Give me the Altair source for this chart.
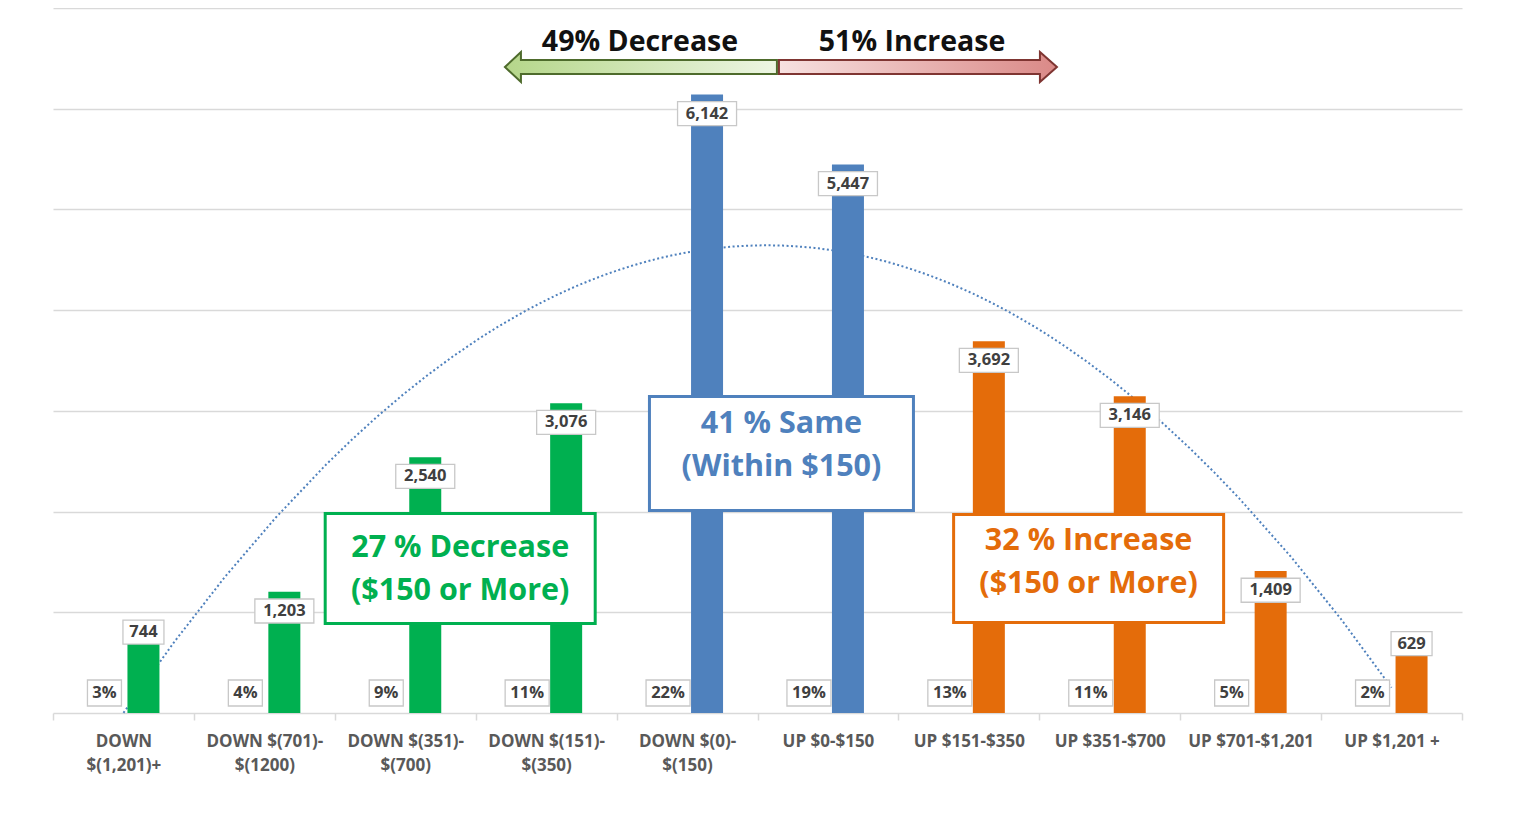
import altair as alt
import pandas as pd

# ---- data ----
categories = ["DOWN|$(1,201)+", "DOWN $(701)-|$(1200)", "DOWN $(351)-|$(700)",
              "DOWN $(151)-|$(350)", "DOWN $(0)-|$(150)", "UP $0-$150",
              "UP $151-$350", "UP $351-$700", "UP $701-$1,201", "UP  $1,201 +"]
counts = [744, 1203, 2540, 3076, 6142, 5447, 3692, 3146, 1409, 629]
percents = [3, 4, 9, 11, 22, 19, 13, 11, 5, 2]
groups = ["Decrease"] * 4 + ["Same"] * 2 + ["Increase"] * 4

group_names = ["Decrease", "Same", "Increase"]
group_colors = ["#00B050", "#4F81BD", "#E46C0A"]
text_colors = ["#07A04A", "#3F6AA3", "#E46C0A"]

ann_labels = ["27 % Decrease|($150 or More)", "41 % Same|(Within $150)", "32 % Increase|($150 or More)"]
ann_x = [2.39, 4.67, 6.85]
ann_y = [1435, 2577, 1435]
ann_text_y = [1420, 2656, 1494]

arrow_titles = ["49% Decrease", "51% Increase"]
arrow_title_x = [3.666, 5.597]
arrow_title_y = [6660, 6660]
arrow_x = [4.645]
arrow_y = [6414]

df = pd.DataFrame({"idx": list(range(len(categories))), "cat": categories,
                   "count": counts, "pct": percents, "group": groups})
ann = pd.DataFrame({"name": group_names, "label": ann_labels, "ax": ann_x, "ay": ann_y,
                    "ty": ann_text_y})
titles = pd.DataFrame({"t": arrow_titles, "tx": arrow_title_x, "ty": arrow_title_y})
arrows = pd.DataFrame({"ax": arrow_x, "ay": arrow_y})

FONT = "Open Sans"
W, H = 1409, 705

yscale = alt.Scale(domain=[0, 7000], nice=False, zero=True)
yaxis = alt.Axis(title=None, labels=False, ticks=False, domain=False, grid=True,
                 values=list(range(1000, 8000, 1000)), gridColor="#D9D9D9", gridWidth=1.5)


def Y(field):
    return alt.Y(field, type="quantitative", scale=yscale, axis=yaxis)


bscale = alt.Scale(domain=categories, paddingInner=0, paddingOuter=0)
xaxis = alt.Axis(title=None, labelExpr="split(datum.label, '|')", labelAngle=0,
                 labelFont=FONT, labelFontSize=17, labelFontWeight="bold",
                 labelColor="#595959", labelLineHeight=24, labelPadding=13,
                 tickBand="extent", tickSize=7, tickColor="#D9D9D9", tickWidth=1.5,
                 domainColor="#D9D9D9", domainWidth=1.5, grid=False, labelOverlap=False,
                 labelLimit=0)


def XB(with_axis=False):
    return alt.X("cat:N", sort=categories, scale=bscale, axis=xaxis if with_axis else None)


qscale = alt.Scale(domain=[-0.5, len(categories) - 0.5], nice=False, zero=False)


def XQ(field):
    return alt.X(field, type="quantitative", scale=qscale, axis=None)


base = alt.Chart(df)

trend = base.transform_regression(
    "idx", "count", method="poly", order=2, extent=[0, len(categories) - 1]
).mark_line(strokeDash=[2, 2.5], color="#4F81BD", strokeWidth=2).encode(
    x=XQ("idx"), y=Y("count"))

bars = base.mark_bar(width=32, xOffset=20).encode(
    x=XB(True), y=Y("count"),
    color=alt.Color("group:N", scale=alt.Scale(domain=group_names, range=group_colors), legend=None))

cnt = base.transform_calculate(
    lab="format(datum.count, ',')",
    ly="datum.count < 1000 ? datum.count + 60 : datum.count - 190",
    bw="14 + 9 * length(format(datum.count, ','))",
    box="'M' + (-datum.bw/2) + ',-12H' + (datum.bw/2) + 'V12H' + (-datum.bw/2) + 'Z'",
)
cnt_box = cnt.mark_point(filled=True, fill="white", stroke="#C8C8C8", strokeWidth=1.3,
                         opacity=1, size=4, xOffset=20).encode(
    x=XB(), y=Y("ly"), shape=alt.Shape("box:N", scale=None, legend=None))
cnt_txt = cnt.mark_text(font=FONT, fontSize=16.5, fontWeight="bold", color="#404040",
                        xOffset=20, baseline="middle").encode(
    x=XB(), y=Y("ly"), text="lab:N")

pc = base.transform_calculate(
    lab="datum.pct + '%'",
    zero="0",
    bw="14 + 10 * length(datum.pct + '%')",
    box="'M' + (-datum.bw/2) + ',-13H' + (datum.bw/2) + 'V13H' + (-datum.bw/2) + 'Z'",
)
pc_box = pc.mark_point(filled=True, fill="white", stroke="#C8C8C8", strokeWidth=1.3,
                       opacity=1, size=4, xOffset=-19, yOffset=-20).encode(
    x=XB(), y=Y("zero"), shape=alt.Shape("box:N", scale=None, legend=None))
pc_txt = pc.mark_text(font=FONT, fontSize=16.5, fontWeight="bold", color="#404040",
                      xOffset=-19, yOffset=-20, baseline="middle").encode(
    x=XB(), y=Y("zero"), text="lab:N")

annb = alt.Chart(ann).transform_calculate(lines="split(datum.label, '|')")
ann_box = annb.mark_point(filled=True, fill="white", strokeWidth=3, opacity=1, size=4).encode(
    x=XQ("ax"), y=Y("ay"),
    shape=alt.Shape("name:N", scale=alt.Scale(domain=group_names, range=[
        "M-135,-55H135V55H-135Z", "M-132,-57H132V57H-132Z", "M-135,-54H135V54H-135Z"]), legend=None),
    stroke=alt.Stroke("name:N", scale=alt.Scale(domain=group_names, range=group_colors), legend=None))
ann_txt = annb.mark_text(font=FONT, fontSize=30.5, fontWeight="bold", lineHeight=43,
                         baseline="middle", yOffset=-21.5).encode(
    x=XQ("ax"), y=Y("ty"), text="lines:N",
    color=alt.Color("name:N", scale=alt.Scale(domain=group_names, range=text_colors), legend=None))

green_grad = alt.Gradient(gradient="linear", x1=0, x2=1, y1=0, y2=0, stops=[
    alt.GradientStop(color="#B5D68A", offset=0), alt.GradientStop(color="#EDF6E3", offset=1)])
red_grad = alt.Gradient(gradient="linear", x1=0, x2=1, y1=0, y2=0, stops=[
    alt.GradientStop(color="#F7E1E0", offset=0), alt.GradientStop(color="#DA8987", offset=1)])

arr = alt.Chart(arrows)
arrow_left = arr.mark_point(shape="M-273,0L-257,-15L-257,-7L-1,-7L-1,7L-257,7L-257,15Z",
                            size=4, filled=True, fill=green_grad, stroke="#4E6B2C",
                            strokeWidth=2, opacity=1).encode(x=XQ("ax"), y=Y("ay"))
arrow_right = arr.mark_point(shape="M1,-7L262,-7L262,-15L279,0L262,15L262,7L1,7Z",
                             size=4, filled=True, fill=red_grad, stroke="#7F3532",
                             strokeWidth=2, opacity=1).encode(x=XQ("ax"), y=Y("ay"))
arrow_txt = alt.Chart(titles).mark_text(font=FONT, fontSize=28.5, fontWeight="bold",
                                        color="#111111", baseline="middle").encode(
    x=XQ("tx"), y=Y("ty"), text="t:N")

chart = alt.layer(
    trend, bars, cnt_box, cnt_txt, pc_box, pc_txt, ann_box, ann_txt,
    arrow_left, arrow_right, arrow_txt
).resolve_scale(x="independent").properties(
    width=W, height=H,
    background="white",
    autosize=alt.AutoSizeParams(type="none"),
    padding={"left": 45, "top": 0, "right": 45, "bottom": 70},
).configure_view(stroke=None)

chart.save("out.html", embed_options={"renderer": "svg", "actions": False})
